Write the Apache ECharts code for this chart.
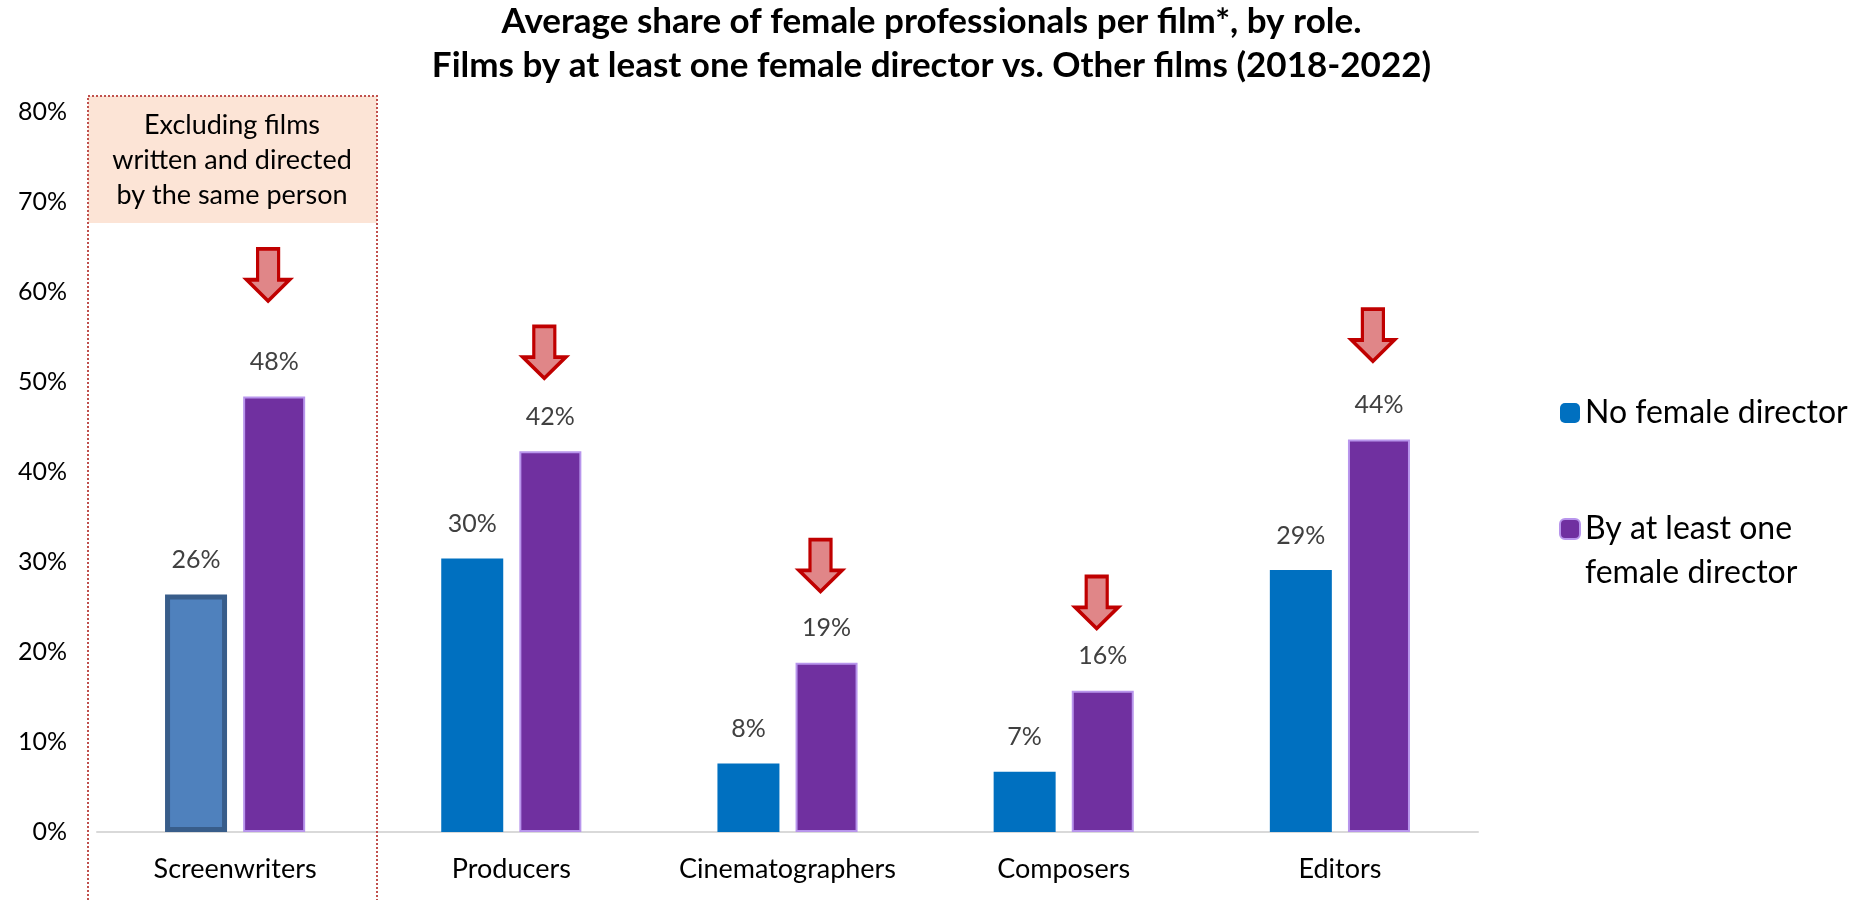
<!DOCTYPE html>
<html>
<head>
<meta charset="utf-8">
<script src="https://cdn.jsdelivr.net/npm/echarts@6/dist/echarts.min.js"></script>
<style>
  html, body { margin: 0; padding: 0; background: #fff; }
  #chart { width: 1863px; height: 900px; }
</style>
</head>
<body>
<div id="chart"></div>
<script>
const roles = ['Screenwriters', 'Producers', 'Cinematographers', 'Composers', 'Editors']
const noFemaleDirector = [26.4, 30.4, 7.6, 6.7, 29.1]
const femaleDirector = [48.4, 42.3, 18.8, 15.7, 43.6]
// arrow markers drawn above the purple bars
const arrowLevels = [61.9, 53.3, 29.6, 25.5, 55.2]
const yTicks = { min: 0, max: 80, interval: 10 }

const FONT = 'Lato, "Open Sans", sans-serif'
const ARROW = 'path://M11.5,0 H33.5 V32 H45 L22.5,54 L0,32 H11.5 Z'

const chart = echarts.init(document.getElementById('chart'))

chart.setOption({
  animation: false,
  textStyle: { fontFamily: FONT },
  title: {
    text: 'Average share of female professionals per film*, by role.\nFilms by at least one female director vs. Other films (2018-2022)',
    left: 'center',
    top: 0,
    padding: 0,
    textStyle: { fontSize: 35, fontWeight: 'bold', color: '#000', lineHeight: 44 }
  },
  legend: {
    orient: 'vertical',
    left: 1559,
    top: 391,
    padding: 0,
    itemWidth: 20,
    itemHeight: 20,
    itemGap: 28,
    textStyle: { fontSize: 32, color: '#000', lineHeight: 44 },
    // empty first line keeps the icon level with "By at least one"
    formatter: name => name === 'By at least one female director' ? '\u00a0\nBy at least one\nfemale director' : name,
    data: ['No female director', 'By at least one female director']
  },
  grid: { left: 97, right: 385, top: 112, bottom: 68 },
  xAxis: {
    type: 'category',
    data: roles,
    axisLine: { lineStyle: { color: '#d9d9d9', width: 2 } },
    axisTick: { show: false },
    axisLabel: { color: '#000', fontSize: 27, margin: 24, interval: 0 }
  },
  yAxis: {
    type: 'value',
    min: yTicks.min,
    max: yTicks.max,
    interval: yTicks.interval,
    axisLine: { show: false },
    axisTick: { show: false },
    splitLine: { show: false },
    axisLabel: { color: '#000', fontSize: 25, margin: 30, formatter: v => v + '%' }
  },
  series: [
    {
      name: 'No female director',
      type: 'bar',
      barWidth: 62,
      barGap: '26%',
      itemStyle: { color: '#0070c0' },
      label: {
        show: true, position: 'top', distance: 22,
        fontSize: 25, color: '#404040',
        formatter: p => Math.round(p.value) + '%'
      },
      data: noFemaleDirector.map((v, i) => i === 0
        ? { value: v, itemStyle: { color: '#4f81bd', borderColor: '#385d8a', borderWidth: 5 } }
        : v)
    },
    {
      name: 'By at least one female director',
      type: 'bar',
      barWidth: 62,
      itemStyle: { color: '#7030a0', borderColor: '#b895ec', borderWidth: 2 },
      label: {
        show: true, position: 'top', distance: 22,
        fontSize: 25, color: '#404040',
        formatter: p => Math.round(p.value) + '%'
      },
      data: femaleDirector
    },
    {
      name: 'arrows',
      type: 'scatter',
      symbol: ARROW,
      symbolSize: [43, 52],
      symbolOffset: [33, 0],
      itemStyle: { color: '#e08688', borderColor: '#c00000', borderWidth: 3.5, opacity: 1 },
      silent: true,
      data: arrowLevels
    }
  ],
  graphic: [
    {
      type: 'rect', z: -1,
      shape: { x: 88, y: 96, width: 289, height: 127 },
      style: { fill: '#fce4d6' }
    },
    {
      type: 'polyline', z: 10,
      shape: { points: [[88, 900], [88, 96], [377, 96], [377, 900]] },
      style: { stroke: '#c0504d', lineWidth: 2, lineDash: [2, 2], fill: null }
    },
    {
      type: 'text', z: 10,
      x: 232, y: 160,
      style: {
        text: 'Excluding films\nwritten and directed\nby the same person',
        fontFamily: FONT, fontSize: 27, lineHeight: 35,
        fill: '#000', align: 'center', verticalAlign: 'middle'
      }
    }
  ]
})
</script>
</body>
</html>
